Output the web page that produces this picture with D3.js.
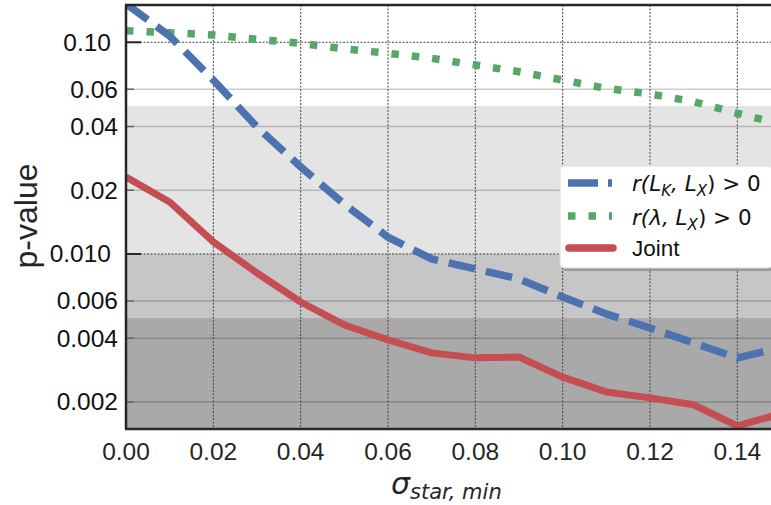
<!DOCTYPE html>
<html><head><meta charset="utf-8">
<script src="https://cdn.jsdelivr.net/npm/d3@7"></script>
<style>body{margin:0;background:#fff}svg{display:block}</style>
</head><body>
<svg id="c" width="771" height="505"></svg>
<script>
const sigma = [0,0.01,0.02,0.03,0.04,0.05,0.06,0.07,0.08,0.09,0.10,0.11,0.12,0.13,0.14,0.15];
const pLK = [0.152,0.107,0.0663,0.0398,0.0258,0.0172,0.0120,0.00947,0.00850,0.00762,0.00626,0.00521,0.00447,0.00380,0.00323,0.00361];
const pLam = [0.1134,0.1110,0.1083,0.1033,0.0989,0.0930,0.0887,0.0840,0.0781,0.0726,0.0663,0.0606,0.0570,0.0524,0.0462,0.0410];
const pJoint = [0.0231,0.0176,0.0114,0.00813,0.00593,0.00462,0.00393,0.00341,0.00323,0.00326,0.00262,0.00223,0.00209,0.00194,0.00154,0.00176];
const xTicks = [0,0.02,0.04,0.06,0.08,0.10,0.12,0.14];
const xTickLabels = ["0.00","0.02","0.04","0.06","0.08","0.10","0.12","0.14"];
const yMajor = [0.1,0.01];
const yMajorLabels = ["0.10","0.010"];
const yMinor = [0.06,0.04,0.02,0.006,0.004,0.002];
const yMinorLabels = ["0.06","0.04","0.02","0.006","0.004","0.002"];
const bands = [[0.05,0.01,"#e4e4e4"],[0.01,0.005,"#c6c6c6"],[0.005,0.00149,"#a9a9a9"]];

const L=126, R=781, T=5, B=429;
const x = d3.scaleLinear().domain([0,0.15]).range([L,R]);
const y = d3.scaleLog().domain([0.00149,0.15]).range([B,T]);
const svg = d3.select("#c");
svg.append("defs").append("clipPath").attr("id","clip")
  .append("rect").attr("x",L).attr("y",T).attr("width",R-L).attr("height",B-T);
const g = svg.append("g");
g.selectAll("rect.band").data(bands).join("rect")
  .attr("x",L).attr("width",R-L)
  .attr("y",d=>y(d[0])).attr("height",d=>y(d[1])-y(d[0]))
  .attr("fill",d=>d[2]);
g.selectAll("line.ming").data(yMinor).join("line")
  .attr("x1",L).attr("x2",R).attr("y1",d=>y(d)).attr("y2",d=>y(d))
  .attr("stroke","rgba(0,0,0,0.2)").attr("stroke-width",1.5);
g.selectAll("line.majg").data(yMajor).join("line")
  .attr("x1",L).attr("x2",R).attr("y1",d=>y(d)).attr("y2",d=>y(d))
  .attr("stroke","#444").attr("stroke-width",1).attr("stroke-dasharray","2,1.5");
g.selectAll("line.xg").data(xTicks).join("line")
  .attr("x1",d=>x(d)).attr("x2",d=>x(d)).attr("y1",T).attr("y2",B)
  .attr("stroke","#444").attr("stroke-width",1).attr("stroke-dasharray","2,1.5");
g.selectAll("line.mt").data(yMajor).join("line")
  .attr("x1",L).attr("x2",L+15).attr("y1",d=>y(d)).attr("y2",d=>y(d))
  .attr("stroke","#262626").attr("stroke-width",2);
g.selectAll("line.nt").data(yMinor).join("line")
  .attr("x1",L).attr("x2",L+8).attr("y1",d=>y(d)).attr("y2",d=>y(d))
  .attr("stroke","#666").attr("stroke-width",1.5);

const lg = svg.append("g").attr("clip-path","url(#clip)");
const line = arr => d3.line().x((d,i)=>x(sigma[i])).y(d=>y(d))(arr);
lg.append("path").attr("d",line(pLam)).attr("fill","none").attr("stroke","#55a868")
  .attr("stroke-width",7.5).attr("stroke-dasharray","7.5,13");
lg.append("path").attr("d",line(pLK)).attr("fill","none").attr("stroke","#4c72b0")
  .attr("stroke-width",7.5).attr("stroke-dasharray","27,11");
lg.append("path").attr("d",line(pJoint)).attr("fill","none").attr("stroke","#c44e52")
  .attr("stroke-width",7).attr("stroke-linejoin","round");

svg.append("line").attr("x1",L).attr("x2",L).attr("y1",T).attr("y2",B).attr("stroke","#262626").attr("stroke-width",2.5);
svg.append("line").attr("x1",L-1).attr("x2",R).attr("y1",B).attr("y2",B).attr("stroke","#262626").attr("stroke-width",2.5);
svg.append("line").attr("x1",L-1).attr("x2",R).attr("y1",T).attr("y2",T).attr("stroke","#262626").attr("stroke-width",2.5);

const font = "'Liberation Sans', Arial, sans-serif";
svg.selectAll("text.xl").data(xTicks).join("text")
  .attr("x",d=>x(d)).attr("y",B+31).attr("text-anchor","middle")
  .attr("font-family",font).attr("font-size",24.5).attr("fill","#262626")
  .text((d,i)=>xTickLabels[i]);
svg.selectAll("text.yM").data(yMajor).join("text")
  .attr("x",111).attr("y",d=>y(d)+8.5).attr("text-anchor","end")
  .attr("font-family",font).attr("font-size",24.5).attr("fill","#111")
  .text((d,i)=>yMajorLabels[i]);
svg.selectAll("text.ym").data(yMinor).join("text")
  .attr("x",118).attr("y",d=>y(d)+8.5).attr("text-anchor","end")
  .attr("font-family",font).attr("font-size",24.5).attr("fill","#111")
  .text((d,i)=>yMinorLabels[i]);

svg.append("text").attr("transform","translate(37,216) rotate(-90)").attr("text-anchor","middle")
  .attr("font-family",font).attr("font-size",32).attr("fill","#262626").text("p-value");
const xl = svg.append("text").attr("x",391).attr("y",494).attr("font-family","'DejaVu Sans', sans-serif")
  .attr("font-style","italic").attr("fill","#262626");
xl.append("tspan").attr("font-size",30).text("σ");
xl.append("tspan").attr("font-size",21).attr("dy",5).text("star, min");

const lgx=560, lgy=166, lgw=212, lgh=102;
svg.append("rect").attr("x",lgx+3).attr("y",lgy+3).attr("width",lgw).attr("height",lgh).attr("rx",4)
  .attr("fill","#777").attr("opacity",0.55);
svg.append("rect").attr("x",lgx).attr("y",lgy).attr("width",lgw).attr("height",lgh).attr("rx",4)
  .attr("fill","#fff").attr("stroke","#ddd").attr("stroke-width",1);
const rows = [
  {yy:183, color:"#4c72b0", dash:"30,10", w:7.5, cap:"butt"},
  {yy:216, color:"#55a868", dash:"7.5,13", w:7.5, cap:"butt"},
  {yy:248, color:"#c44e52", dash:null, w:7.5, cap:"round"}
];
rows.forEach(r=>{
  const ln = svg.append("line").attr("x1",r.cap==="round"?569:568).attr("x2",r.cap==="round"?613:612)
    .attr("y1",r.yy).attr("y2",r.yy).attr("stroke",r.color).attr("stroke-width",r.w).attr("stroke-linecap",r.cap);
  if(r.dash) ln.attr("stroke-dasharray",r.dash);
});
const mf = "'DejaVu Sans', sans-serif";
function mathLabel(yy, parts){
  const t = svg.append("text").attr("x",632).attr("y",yy).attr("font-family",mf).attr("font-size",21.5).attr("fill","#111");
  parts.forEach(p=>{
    const s=t.append("tspan").text(p.t);
    if(p.i) s.attr("font-style","italic");
    if(p.fs) s.attr("font-size",p.fs);
    if(p.dy) s.attr("dy",p.dy);
  });
}
mathLabel(191,[{t:"r(L",i:1},{t:"K",i:1,fs:15,dy:5},{t:", L",i:1,dy:-5},{t:"X",i:1,fs:15,dy:5},{t:") > 0",dy:-5}]);
mathLabel(225,[{t:"r(λ, L",i:1},{t:"X",i:1,fs:15,dy:5},{t:") > 0",dy:-5}]);
svg.append("text").attr("x",632).attr("y",256).attr("font-family",font).attr("font-size",22.5).attr("fill","#111").text("Joint");
</script>
</body></html>
